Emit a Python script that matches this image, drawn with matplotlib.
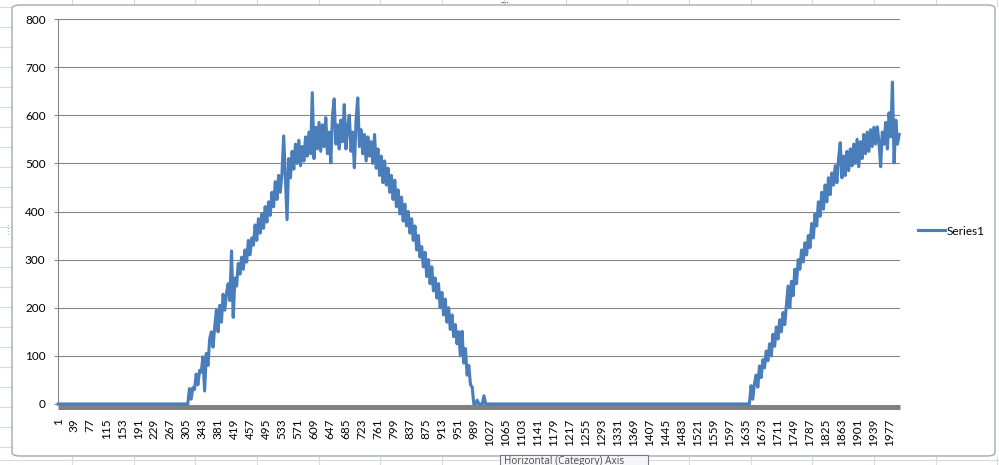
import numpy as np
import matplotlib
matplotlib.use("Agg")
import matplotlib.pyplot as plt
from matplotlib.lines import Line2D
from matplotlib.patches import FancyBboxPatch, Rectangle

# ---------------- data ----------------
n_categories = 2000
sample_step = 4
category_labels = list(range(1, n_categories + 1, 38))  # 1, 39, ..., 1977
y_ticks = [0, 100, 200, 300, 400, 500, 600, 700, 800]
series_name = "Series1"

hump1_start = 305
hump1_values = [
    0, 0, 32, 10, 34, 30, 62, 40, 70, 66,
    98, 27, 105, 80, 135, 150, 118, 160, 195, 150,
    205, 170, 228, 195, 230, 250, 215, 318, 180, 262,
    245, 292, 270, 305, 280, 320, 295, 340, 310, 345,
    330, 372, 340, 385, 355, 395, 365, 410, 378, 420,
    392, 440, 410, 462, 425, 475, 440, 480, 557, 470,
    383, 510, 470, 525, 488, 540, 500, 548, 495, 535,
    505, 555, 515, 565, 520, 647, 510, 575, 530, 585,
    525, 580, 535, 595, 520, 565, 501, 600, 634, 540,
    580, 530, 590, 545, 622, 530, 575, 600, 525, 565,
    491, 590, 636, 535, 570, 520, 560, 505, 555, 515,
    545, 500, 560, 490, 530, 475, 515, 460, 505, 455,
    490, 440, 475, 425, 465, 410, 445, 395, 430, 380,
    415, 370, 400, 355, 385, 340, 370, 320, 350, 305,
    327, 285, 315, 265, 300, 250, 285, 235, 262, 220,
    250, 200, 232, 185, 218, 170, 200, 155, 185, 140,
    165, 125, 150, 100, 151, 85, 115, 60, 80, 40,
    35, 0, 0, 8, 0, 0, 0, 17, 0, 0,
]

hump2_start = 1644
hump2_values = [
    0, 38, 10, 42, 60, 35, 79, 55, 92, 75,
    110, 90, 125, 100, 145, 120, 160, 135, 175, 150,
    190, 165, 205, 245, 200, 255, 225, 280, 250, 300,
    280, 320, 295, 335, 310, 350, 325, 375, 345, 395,
    370, 420, 390, 440, 405, 455, 420, 470, 435, 480,
    455, 495, 460, 510, 543, 470, 515, 475, 525, 485,
    530, 495, 540, 500, 550, 493, 545, 510, 560, 520,
    565, 525, 570, 535, 575, 540, 576, 545, 493, 565,
    540, 585, 530, 605, 555, 669, 501, 590, 540, 560,
]

# build series (zero outside the two humps)
hump1_x = hump1_start + sample_step * np.arange(len(hump1_values))
hump2_x = hump2_start + sample_step * np.arange(len(hump2_values))
x = np.concatenate([[1], hump1_x, hump2_x])
y = np.concatenate([[0], hump1_values, hump2_values]).astype(float)
if x[-1] < n_categories:
    x = np.append(x, n_categories)
    y = np.append(y, y[-1])

# ---------------- figure ----------------
W, H = 999, 465
fig = plt.figure(figsize=(W / 100, H / 100), dpi=100)
fig.patch.set_facecolor("white")

font = ["Lato", "DejaVu Sans"]
plt.rcParams["font.family"] = font
fs = 8.5

def fx(px):
    return px / W

def fy(py):
    return 1 - py / H

# spreadsheet cell grid behind chart
cell_color = "#D4DAE6"
for cx in np.arange(72, W, 61.7):
    fig.add_artist(Line2D([fx(cx), fx(cx)], [fy(0), fy(6)], color=cell_color, lw=0.8, zorder=-3))
    fig.add_artist(Line2D([fx(cx), fx(cx)], [fy(457), fy(465)], color=cell_color, lw=0.8, zorder=-3))
for ry in np.arange(7, H, 20):
    fig.add_artist(Line2D([fx(0), fx(11)], [fy(ry), fy(ry)], color=cell_color, lw=0.8, zorder=-3))
fig.add_artist(Line2D([fx(0), fx(W)], [fy(460), fy(460)], color=cell_color, lw=0.8, zorder=-3))

# chart area border
border = FancyBboxPatch((fx(12), fy(456)), fx(995) - fx(12), fy(5) - fy(456),
                        boxstyle="round,pad=0,rounding_size=0.008",
                        transform=fig.transFigure, facecolor="white",
                        edgecolor="#A3A9B3", lw=1.0, zorder=-2)
fig.add_artist(border)

# plot area
ax = fig.add_axes([fx(58), fy(404), fx(900) - fx(58), fy(19) - fy(404)])
ax.set_zorder(1)
ax.set_facecolor("none")
line, = ax.plot(x, y, color="#4A7EBB", lw=2.25, solid_joinstyle="round",
                zorder=3, clip_on=False, label=series_name)

ax.set_xlim(0.5, n_categories + 2)
ax.set_ylim(0, 800)
ax.set_yticks(y_ticks)
ax.set_xticks(category_labels)
ax.set_xticklabels([str(c) for c in category_labels])

ax.grid(axis="y", color="#868686", lw=0.8)
ax.set_axisbelow(True)
for s in ("top", "right"):
    ax.spines[s].set_visible(False)
ax.spines["left"].set_color("#868686")
ax.spines["left"].set_linewidth(0.8)
ax.spines["bottom"].set_color("#808080")
ax.spines["bottom"].set_linewidth(3.6)
ax.spines["bottom"].set_position(("outward", 1.8))
ax.spines["bottom"].set_capstyle("butt")

ax.tick_params(axis="y", length=3, width=0.8, color="#868686", pad=6, labelsize=fs)
ax.tick_params(axis="x", length=0, pad=8.5, labelsize=fs, labelrotation=90)
for lab in ax.get_xticklabels():
    lab.set_verticalalignment("top")
    lab.set_horizontalalignment("center")

ax.legend(handles=[line], loc="center left", bbox_to_anchor=(fx(918), fy(231)),
          bbox_transform=fig.transFigure, frameon=False, fontsize=fs,
          handlelength=2.3, handletextpad=0.1, borderpad=0, borderaxespad=0)

# tooltip at bottom
tip = Rectangle((fx(500), fy(468)), fx(648) - fx(500), fy(455) - fy(468),
                transform=fig.transFigure, facecolor="#F4F5F8",
                edgecolor="#76797E", lw=0.8, zorder=5)
fig.add_artist(tip)
fig.text(fx(504), fy(455.5), "Horizontal (Category) Axis", ha="left", va="top",
         fontsize=7.2, color="#4C4C4C", zorder=6, family=["Open Sans", "DejaVu Sans"])

# selection handles
fig.text(fx(505), fy(0), "····", ha="center", va="top", fontsize=6, color="#555555")
fig.text(fx(8), fy(230), "⁞", ha="center", va="center", fontsize=7, color="#777777")

fig.savefig("out.png", dpi=100)
